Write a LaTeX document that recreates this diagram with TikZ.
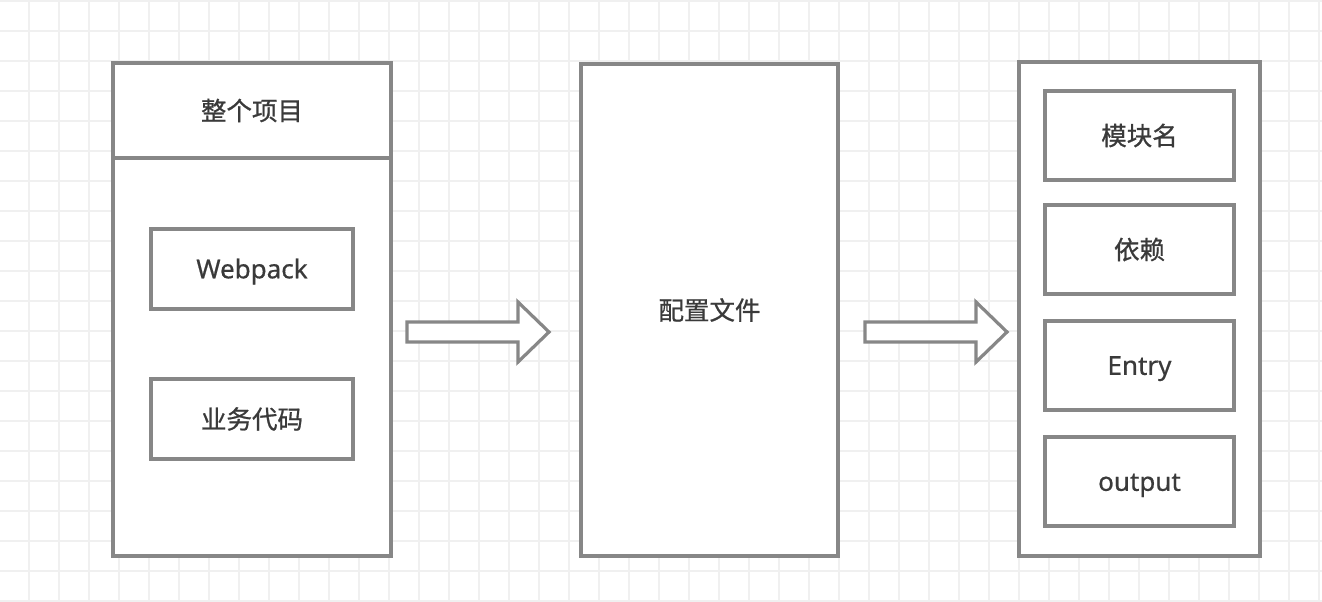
\documentclass[tikz,border=0pt]{standalone}
\usepackage{fontspec}
\setmainfont{Noto Sans}[FakeBold=0.6]
\newfontfamily\cjk{Noto Sans CJK SC}[FakeBold=0.8]
\definecolor{gridc}{HTML}{F0F0F0}
\definecolor{edge}{HTML}{878787}
\definecolor{txt}{HTML}{3A3A3A}
\begin{document}
\begin{tikzpicture}[x=1pt,y=-1pt,
  box/.style={draw=edge,line width=3.2pt,fill=white,rectangle,inner sep=0pt,
    text=txt,font=\fontsize{25.5}{30}\selectfont\cjk},
  latin/.style={font=\fontsize{26}{30}\selectfont,text height=18.6pt,text depth=0pt},
  blockarrow/.style={draw=edge,line width=3.2pt,fill=white,line join=miter}]
\useasboundingbox (0,0) rectangle (1322,602);
\fill[white] (0,0) rectangle (1322,602);
% grid
\foreach \i in {0,...,43} {
  \pgfmathsetmacro{\xx}{29+30*\i}
  \draw[gridc,line width=1.6pt] (\xx,0) -- (\xx,602);
}
\foreach \j in {0,...,20} {
  \pgfmathsetmacro{\yy}{1+30*\j}
  \draw[gridc,line width=1.6pt] (0,\yy) -- (1322,\yy);
}
% left group
\node[box,minimum width=278pt,minimum height=398pt] (leftbody) at (252,357) {};
\node[box,minimum width=278pt,minimum height=95pt] (header) at (252,110.5) {整个项目};
\node[box,latin,minimum width=202pt,minimum height=80pt] (webpack) at (252,269) {Webpack};
\node[box,minimum width=202pt,minimum height=80pt] (biz) at (252,419) {业务代码};
% middle
\node[box,minimum width=257pt,minimum height=492pt] (config) at (709.5,310) {配置文件};
% right group
\node[box,minimum width=241pt,minimum height=494pt] (right) at (1139.5,309) {};
\node[box,minimum width=189pt,minimum height=89pt] (modname) at (1139.5,135.5) {模块名};
\node[box,minimum width=189pt,minimum height=89pt] (deps) at (1139.5,249.5) {依赖};
\node[box,latin,minimum width=189pt,minimum height=89pt] (entry) at (1139.5,365.5) {Entry};
\node[box,latin,minimum width=189pt,minimum height=89pt] (output) at (1139.5,481.5) {output};
% block arrows
\foreach \dx in {0,458} {
  \draw[blockarrow,shift={(\dx,0)}] (407,322) -- (518,322) -- (518,302) -- (549,332)
     -- (518,362) -- (518,342) -- (407,342) -- cycle;
}
\end{tikzpicture}
\end{document}
